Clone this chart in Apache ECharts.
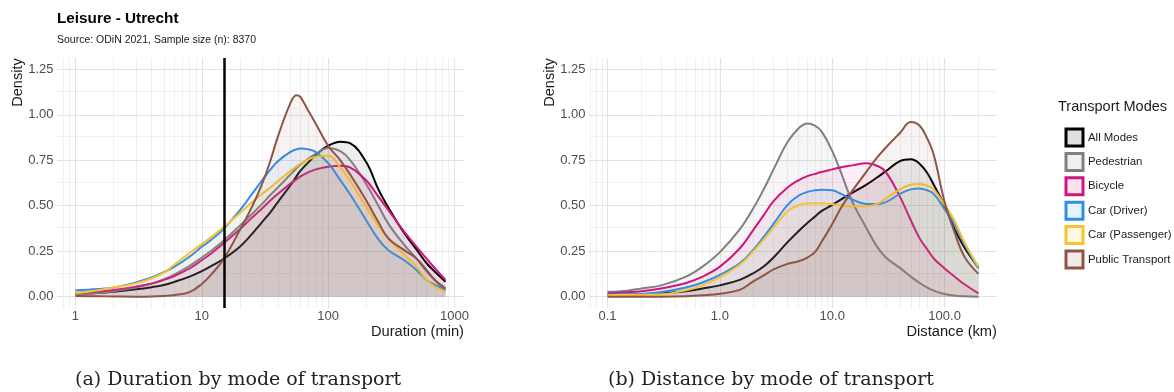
<!DOCTYPE html>
<html>
<head>
<meta charset="utf-8">
<script src="https://cdn.jsdelivr.net/npm/echarts@6/dist/echarts.min.js"></script>
<style>html,body{margin:0;padding:0;background:#fff}#c{width:1174px;height:392px}</style>
</head>
<body>
<div id="c"></div>
<script>
// ---------- data ----------
const modes = ['All Modes', 'Pedestrian', 'Bicycle', 'Car (Driver)', 'Car (Passenger)', 'Public Transport'];
const modeColors = ['#000000', '#808080', '#D1157E', '#2F8FE8', '#F9C22E', '#8E5444'];
const modeFills = ['#e0e0e0', '#f0f0f0', '#f9e3ef', '#e6f2fc', '#fef8e6', '#f1ebe9'];

// (a) Duration (min)
const durationMin = [1, 1.5, 2, 3, 4, 5, 6, 8, 10, 12, 15, 20, 25, 30, 35, 40, 50, 56, 60, 70, 80, 100, 125, 150, 200, 250, 300, 400, 500, 600, 700, 850];
const durAllModes = [0.015, 0.02, 0.027, 0.04, 0.052, 0.064, 0.08, 0.11, 0.14, 0.17, 0.21, 0.275, 0.345, 0.41, 0.465, 0.52, 0.61, 0.66, 0.69, 0.74, 0.78, 0.83, 0.852, 0.843, 0.74, 0.59, 0.49, 0.35, 0.26, 0.185, 0.137, 0.082];
const durPedestrian = [0.01, 0.02, 0.03, 0.05, 0.07, 0.095, 0.12, 0.17, 0.215, 0.255, 0.31, 0.39, 0.455, 0.51, 0.56, 0.60, 0.67, 0.705, 0.725, 0.76, 0.785, 0.818, 0.80, 0.75, 0.62, 0.50, 0.40, 0.285, 0.21, 0.14, 0.09, 0.037];
const durBicycle = [0.02, 0.028, 0.037, 0.055, 0.072, 0.092, 0.112, 0.155, 0.20, 0.24, 0.295, 0.37, 0.435, 0.485, 0.53, 0.565, 0.62, 0.645, 0.66, 0.685, 0.70, 0.715, 0.72, 0.71, 0.64, 0.55, 0.476, 0.357, 0.275, 0.21, 0.156, 0.092];
const durCarDriver = [0.035, 0.042, 0.05, 0.078, 0.105, 0.135, 0.162, 0.22, 0.275, 0.315, 0.375, 0.475, 0.565, 0.64, 0.70, 0.745, 0.795, 0.81, 0.815, 0.81, 0.795, 0.735, 0.64, 0.56, 0.42, 0.315, 0.255, 0.20, 0.147, 0.092, 0.064, 0.037];
const durCarPassenger = [0.018, 0.035, 0.05, 0.073, 0.10, 0.132, 0.174, 0.24, 0.29, 0.33, 0.385, 0.458, 0.52, 0.565, 0.60, 0.635, 0.69, 0.715, 0.73, 0.755, 0.77, 0.775, 0.71, 0.635, 0.495, 0.39, 0.32, 0.23, 0.165, 0.092, 0.055, 0.027];
const durPublicTransport = [0.004, 0.002, 0.001, 0.0, 0.001, 0.004, 0.008, 0.025, 0.07, 0.125, 0.21, 0.366, 0.495, 0.62, 0.75, 0.88, 1.06, 1.108, 1.10, 1.02, 0.95, 0.83, 0.75, 0.67, 0.53, 0.41, 0.32, 0.256, 0.21, 0.147, 0.092, 0.046];
const durationThreshold = 15;

// (b) Distance (km)
const distanceKm = [0.1, 0.15, 0.2, 0.3, 0.5, 0.7, 1, 1.5, 2, 2.5, 3, 4, 5, 6, 7, 8, 10, 12, 15, 20, 25, 30, 40, 50, 60, 70, 80, 100, 120, 150, 200];
const distAllModes = [0.008, 0.01, 0.013, 0.018, 0.03, 0.045, 0.062, 0.092, 0.13, 0.17, 0.215, 0.30, 0.36, 0.405, 0.44, 0.47, 0.505, 0.535, 0.57, 0.615, 0.655, 0.69, 0.745, 0.755, 0.73, 0.68, 0.615, 0.50, 0.385, 0.27, 0.16];
const distPedestrian = [0.027, 0.033, 0.045, 0.062, 0.11, 0.165, 0.245, 0.37, 0.49, 0.60, 0.70, 0.85, 0.925, 0.952, 0.94, 0.91, 0.80, 0.68, 0.525, 0.38, 0.275, 0.215, 0.158, 0.11, 0.075, 0.05, 0.033, 0.014, 0.006, 0.002, 0.0];
const distBicycle = [0.018, 0.024, 0.03, 0.045, 0.075, 0.11, 0.165, 0.265, 0.37, 0.455, 0.525, 0.60, 0.64, 0.663, 0.675, 0.685, 0.70, 0.712, 0.722, 0.733, 0.72, 0.685, 0.55, 0.42, 0.32, 0.26, 0.21, 0.155, 0.115, 0.068, 0.018];
const distCarDriver = [0.012, 0.013, 0.015, 0.025, 0.05, 0.078, 0.12, 0.183, 0.26, 0.335, 0.40, 0.505, 0.555, 0.576, 0.585, 0.588, 0.585, 0.565, 0.535, 0.51, 0.51, 0.52, 0.565, 0.59, 0.595, 0.585, 0.565, 0.48, 0.41, 0.29, 0.155];
const distCarPassenger = [0.008, 0.009, 0.01, 0.013, 0.035, 0.062, 0.107, 0.175, 0.252, 0.32, 0.38, 0.47, 0.503, 0.513, 0.514, 0.513, 0.508, 0.503, 0.497, 0.497, 0.51, 0.54, 0.59, 0.615, 0.62, 0.61, 0.59, 0.505, 0.43, 0.30, 0.165];
const distPublicTransport = [0.0, 0.0, 0.0, 0.0, 0.002, 0.007, 0.016, 0.037, 0.085, 0.12, 0.15, 0.18, 0.195, 0.215, 0.245, 0.30, 0.40, 0.49, 0.58, 0.685, 0.765, 0.82, 0.90, 0.96, 0.94, 0.87, 0.78, 0.52, 0.37, 0.22, 0.125];

// ticks / grid lines
const durationMajorTicks = [1, 10, 100, 1000];
const durationMinorTicks = [0.8, 0.9, 2, 3, 4, 5, 6, 7, 8, 9, 20, 30, 40, 50, 60, 70, 80, 90, 200, 300, 400, 500, 600, 700, 800, 900];
const distanceMajorTicks = [0.1, 1, 10, 100];
const distanceMinorTicks = [0.07, 0.08, 0.09, 0.2, 0.3, 0.4, 0.5, 0.6, 0.7, 0.8, 0.9, 2, 3, 4, 5, 6, 7, 8, 9, 20, 30, 40, 50, 60, 70, 80, 90, 200];
const densityMajorTicks = [0, 0.25, 0.5, 0.75, 1.0, 1.25];
const densityMinorTicks = [0.125, 0.375, 0.625, 0.875, 1.125];

// ---------- chart ----------
const FONT = '"Liberation Sans", Arial, Helvetica, sans-serif';
const durValues = [durAllModes, durPedestrian, durBicycle, durCarDriver, durCarPassenger, durPublicTransport];
const distValues = [distAllModes, distPedestrian, distBicycle, distCarDriver, distCarPassenger, distPublicTransport];
const pairs = (xs, ys) => xs.map((x, i) => [x, ys[i]]);
const isPow10 = v => Math.abs(Math.log10(v) - Math.round(Math.log10(v))) < 1e-6;
const isQuarter = v => Math.abs(v / 0.25 - Math.round(v / 0.25)) < 1e-6;

function gridSeries(idx, majorX, minorX) {
  const major = { color: '#e2e2e2', width: 1, type: 'solid' };
  const minor = { color: '#ececec', width: 0.8, type: 'solid' };
  const data = [];
  densityMinorTicks.forEach(v => data.push({ yAxis: v, lineStyle: minor }));
  minorX.forEach(v => data.push({ xAxis: v, lineStyle: minor }));
  densityMajorTicks.forEach(v => data.push({ yAxis: v, lineStyle: major }));
  majorX.forEach(v => data.push({ xAxis: v, lineStyle: major }));
  return {
    type: 'line', xAxisIndex: idx, yAxisIndex: idx, data: [], silent: true, z: 0,
    markLine: { silent: true, z: 0, zlevel: 0, symbol: ['none', 'none'], label: { show: false }, animation: false,
      emphasis: { disabled: true }, data: data }
  };
}

function curveSeries(idx, xs, valuesList) {
  return modes.map((m, i) => ({
    type: 'line', name: m, xAxisIndex: idx, yAxisIndex: idx,
    data: pairs(xs, valuesList[i]),
    symbol: 'none', showSymbol: false, smooth: 0.4, z: 2 + i,
    lineStyle: { color: modeColors[i], width: 2 },
    itemStyle: { color: modeColors[i] },
    areaStyle: { color: modeColors[i], opacity: 0.07 },
    emphasis: { disabled: true }, animation: false
  }));
}

function yAxisCfg(idx) {
  return {
    type: 'value', gridIndex: idx, min: -0.0625, max: 1.3125, interval: 0.0625,
    axisLine: { show: false }, axisTick: { show: false }, splitLine: { show: false },
    axisLabel: { margin: 3.5, fontSize: 13, color: '#4d4d4d', fontFamily: FONT,
      formatter: v => isQuarter(v) ? v.toFixed(2) : '' }
  };
}

const chart = echarts.init(document.getElementById('c'), null, { renderer: 'canvas' });
chart.setOption({
  animation: false,
  backgroundColor: '#ffffff',
  title: {
    text: 'Leisure - Utrecht',
    subtext: 'Source: ODiN 2021, Sample size (n): 8370',
    left: 57, top: 10.8, padding: 0, itemGap: 8.7,
    textStyle: { fontSize: 15.3, fontWeight: 'bold', color: '#000', fontFamily: FONT, lineHeight: 15 },
    subtextStyle: { fontSize: 10.5, color: '#1a1a1a', fontFamily: FONT, lineHeight: 11 }
  },
  legend: {
    orient: 'vertical', left: 1059.5, top: 122.5, itemWidth: 17, itemHeight: 17, itemGap: 4.4,
    selectedMode: false, icon: 'rect',
    textStyle: { fontSize: 11.4, color: '#1a1a1a', fontFamily: FONT },
    data: modes.map((m, i) => ({ name: m, icon: 'rect',
      itemStyle: { color: modeFills[i], borderColor: modeColors[i], borderWidth: 3 } }))
  },
  grid: [
    { left: 57, top: 58, width: 407, height: 250, containLabel: false, outerBoundsMode: 'none' },
    { left: 589, top: 58, width: 408, height: 250, containLabel: false, outerBoundsMode: 'none' }
  ],
  xAxis: [
    { type: 'log', logBase: 10, gridIndex: 0, min: 0.714, max: 1190,
      axisLine: { show: false }, axisTick: { show: false }, splitLine: { show: false },
      axisLabel: { margin: 1.5, fontSize: 13, color: '#4d4d4d', fontFamily: FONT,
        showMinLabel: false, showMaxLabel: false,
        formatter: v => isPow10(v) ? String(Math.round(v)) : '' } },
    { type: 'log', logBase: 10, gridIndex: 1, min: 0.0684, max: 292.4,
      axisLine: { show: false }, axisTick: { show: false }, splitLine: { show: false },
      axisLabel: { margin: 1.5, fontSize: 13, color: '#4d4d4d', fontFamily: FONT,
        showMinLabel: false, showMaxLabel: false,
        formatter: v => isPow10(v) ? v.toFixed(1) : '' } }
  ],
  yAxis: [yAxisCfg(0), yAxisCfg(1)],
  series: [
    gridSeries(0, durationMajorTicks, durationMinorTicks),
    gridSeries(1, distanceMajorTicks, distanceMinorTicks),
    ...curveSeries(0, durationMin, durValues),
    ...curveSeries(1, distanceKm, distValues),
    { type: 'line', xAxisIndex: 0, yAxisIndex: 0, data: [], silent: true, z: 20,
      markLine: { silent: true, z: 20, symbol: ['none', 'none'], label: { show: false }, animation: false,
        emphasis: { disabled: true },
        lineStyle: { color: '#000', width: 2.5, type: 'solid' },
        data: [{ xAxis: durationThreshold }] } }
  ],
  graphic: [
    { type: 'text', x: 17.5, y: 82.5, rotation: Math.PI / 2,
      style: { text: 'Density', fontSize: 14.5, fill: '#1a1a1a', fontFamily: FONT, align: 'center', verticalAlign: 'middle' } },
    { type: 'text', x: 550, y: 82.5, rotation: Math.PI / 2,
      style: { text: 'Density', fontSize: 14.5, fill: '#1a1a1a', fontFamily: FONT, align: 'center', verticalAlign: 'middle' } },
    { type: 'text', x: 464, y: 331.7,
      style: { text: 'Duration (min)', fontSize: 14.7, fill: '#1a1a1a', fontFamily: FONT, align: 'right', verticalAlign: 'middle' } },
    { type: 'text', x: 997, y: 331.7,
      style: { text: 'Distance (km)', fontSize: 14.7, fill: '#1a1a1a', fontFamily: FONT, align: 'right', verticalAlign: 'middle' } },
    { type: 'text', x: 1058, y: 107,
      style: { text: 'Transport Modes', fontSize: 14.5, fill: '#1a1a1a', fontFamily: FONT, align: 'left', verticalAlign: 'middle' } },
    { type: 'text', x: 75, y: 380,
      style: { text: '(a) Duration by mode of transport', fontSize: 19, fill: '#222', fontFamily: '"DejaVu Serif", serif', align: 'left', verticalAlign: 'middle' } },
    { type: 'text', x: 608, y: 380,
      style: { text: '(b) Distance by mode of transport', fontSize: 19, fill: '#222', fontFamily: '"DejaVu Serif", serif', align: 'left', verticalAlign: 'middle' } }
  ]
});
</script>
</body>
</html>
